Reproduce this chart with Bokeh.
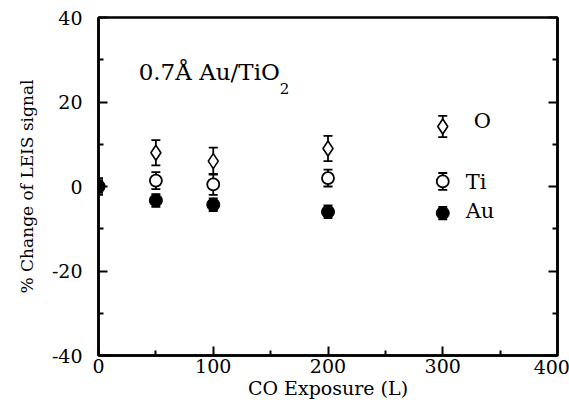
from bokeh.plotting import figure
from bokeh.models import (ColumnDataSource, Whisker, TeeHead, LinearAxis, Range1d, FixedTicker,
                          Label, CustomLabelingPolicy)
from bokeh.embed import file_html
from bokeh.resources import INLINE

# data
o_x = [50, 100, 200, 300]
o_y = [8, 6, 9, 14.2]
o_err = [3, 3.2, 3, 2.5]

ti_x = [0, 50, 100, 200, 300]
ti_y = [0, 1.4, 0.5, 2, 1.2]
ti_err = [2, 2, 2.5, 2, 2]

au_x = [0, 50, 100, 200, 300]
au_y = [0, -3.3, -4.3, -6, -6.3]
au_err = [1.5, 1.5, 1.5, 1.5, 1.5]

x_ticks = [0, 100, 200, 300]
x_last_tick = [400]
x_minor = [50, 150, 250, 350]
y_ticks = [-40, -20, 0, 20, 40]
y_minor = [-30, -10, 10, 30]
y_tick_labels = {-40: "-40", -20: "-20", 0: "0", 20: "20", 40: "40"}
FONT = "DejaVu Serif"

p = figure(width=569, height=412, output_backend="svg", toolbar_location=None,
           x_range=Range1d(0, 400), y_range=Range1d(-40, 40),
           min_border_left=98, min_border_right=12, min_border_top=17, min_border_bottom=57)
p.frame_width = 459
p.frame_height = 338
p.xgrid.visible = False
p.ygrid.visible = False
p.outline_line_color = "black"
p.outline_line_width = 2.5
p.background_fill_color = "white"
p.border_fill_color = "white"

for ax in (p.xaxis[0], p.yaxis[0]):
    ax.major_tick_in = 9
    ax.major_tick_out = 0
    ax.minor_tick_in = 5
    ax.minor_tick_out = 0
    ax.axis_line_width = 2.5
    ax.major_tick_line_width = 2
    ax.minor_tick_line_width = 2
    ax.major_label_text_font = FONT
    ax.major_label_text_font_size = "19px"
    ax.major_label_text_color = "black"
    ax.axis_label_text_font = FONT
    ax.axis_label_text_font_style = "normal"
    ax.axis_label_text_color = "black"

p.xaxis[0].ticker = FixedTicker(ticks=x_ticks, minor_ticks=x_minor)
p.yaxis[0].ticker = FixedTicker(ticks=y_ticks, minor_ticks=y_minor)
p.yaxis[0].major_label_overrides = y_tick_labels
p.yaxis[0].axis_label = "% Change of LEIS signal"
p.yaxis[0].axis_label_text_font_size = "17px"
p.xaxis[0].major_label_standoff = 3
p.yaxis[0].major_label_standoff = 16
p.yaxis[0].axis_label_standoff = 12

# second bottom axis: carries the last tick label (shifted a little left so it fits the page)
# and the x axis title
p.extra_x_ranges = {"last": Range1d(5, 405)}
xax2 = LinearAxis(x_range_name="last", ticker=FixedTicker(ticks=x_last_tick, minor_ticks=[]),
                  major_tick_in=0, major_tick_out=0, minor_tick_in=0, minor_tick_out=0,
                  axis_line_color=None, major_label_standoff=-16,
                  major_label_text_font=FONT, major_label_text_font_size="19px",
                  major_label_text_color="black",
                  axis_label="CO Exposure (L)", axis_label_text_font=FONT,
                  axis_label_text_font_size="19px", axis_label_text_font_style="normal",
                  axis_label_text_color="black", axis_label_standoff=0)
p.add_layout(xax2, "below")

no_labels = CustomLabelingPolicy(code="""
try { indices.clear() } catch (e) { for (const i of Array.from(indices)) indices.unset(i) }
return indices
""")
rax = LinearAxis(ticker=FixedTicker(ticks=y_ticks, minor_ticks=y_minor),
                 major_tick_in=9, major_tick_out=0, minor_tick_in=5, minor_tick_out=0,
                 major_label_policy=no_labels, axis_line_width=2.5,
                 major_tick_line_width=2, minor_tick_line_width=2, major_label_standoff=0)
p.add_layout(rax, "right")

src_o = ColumnDataSource(dict(x=o_x, y=o_y, lo=[a - b for a, b in zip(o_y, o_err)], hi=[a + b for a, b in zip(o_y, o_err)]))
src_ti = ColumnDataSource(dict(x=ti_x, y=ti_y, lo=[a - b for a, b in zip(ti_y, ti_err)], hi=[a + b for a, b in zip(ti_y, ti_err)]))
src_au = ColumnDataSource(dict(x=au_x, y=au_y, lo=[a - b for a, b in zip(au_y, au_err)], hi=[a + b for a, b in zip(au_y, au_err)]))

for s in (src_o, src_ti, src_au):
    w = Whisker(base="x", upper="hi", lower="lo", source=s, line_width=1.8, line_color="black",
                upper_head=TeeHead(size=9, line_width=1.8), lower_head=TeeHead(size=9, line_width=1.8))
    p.add_layout(w)

p.scatter("x", "y", source=src_o, marker="diamond", size=15, fill_color="white",
          line_color="black", line_width=1.6)
p.scatter("x", "y", source=src_ti, marker="circle", size=12, fill_color="white",
          line_color="black", line_width=1.8)
p.scatter("x", "y", source=src_au, marker="circle", size=13, fill_color="black",
          line_color="black", line_width=1)

labels = ["O", "Ti", "Au"]
label_x = [327, 320, 320]
label_y = [15.4, 1, -5.7]
for t, xx, yy in zip(labels, label_x, label_y):
    p.add_layout(Label(x=xx, y=yy, text=t, text_font=FONT, text_font_size="21px",
                       text_baseline="middle", text_color="black"))

p.add_layout(Label(x=35, y=27, text="0.7Å Au/TiO", text_font=FONT, text_font_size="23px",
                   text_baseline="alphabetic", text_color="black"))
p.add_layout(Label(x=158, y=23.2, text="2", text_font=FONT, text_font_size="15px",
                   text_baseline="alphabetic", text_color="black"))

open("out.html", "w").write(file_html(p, INLINE))
